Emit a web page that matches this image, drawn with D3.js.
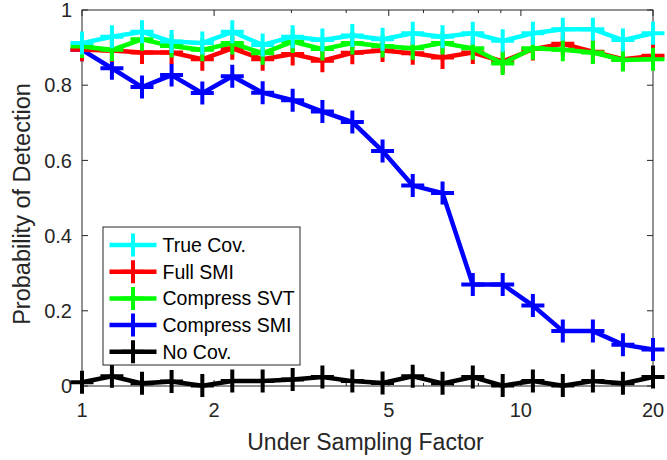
<!DOCTYPE html>
<html>
<head>
<meta charset="utf-8">
<script src="https://cdn.jsdelivr.net/npm/d3@7"></script>
<style>
  html, body { margin: 0; padding: 0; background: #fff; }
  svg { display: block; font-family: "Liberation Sans", Arial, Helvetica, sans-serif; }
</style>
</head>
<body>
<svg id="chart" width="667" height="460"></svg>
<script>
// Under-sampling factors (log-spaced from 1 to 20)
const factors = [1, 1.17, 1.37, 1.60, 1.88, 2.20, 2.58, 3.02, 3.53, 4.13,
                 4.84, 5.67, 6.63, 7.77, 9.09, 10.65, 12.46, 14.59, 17.08, 20];

// Probability of detection for each method
const trueCov     = [0.912, 0.929, 0.942, 0.916, 0.912, 0.942, 0.907, 0.929, 0.920, 0.932,
                     0.922, 0.938, 0.929, 0.938, 0.918, 0.938, 0.949, 0.949, 0.920, 0.938];
const fullSMI     = [0.894, 0.892, 0.887, 0.887, 0.869, 0.898, 0.869, 0.883, 0.865, 0.886,
                     0.892, 0.885, 0.874, 0.887, 0.863, 0.896, 0.910, 0.889, 0.869, 0.878];
const compressSVT = [0.903, 0.894, 0.922, 0.904, 0.894, 0.912, 0.885, 0.916, 0.896, 0.912,
                     0.904, 0.898, 0.912, 0.898, 0.858, 0.898, 0.894, 0.887, 0.867, 0.869];
const compressSMI = [0.894, 0.845, 0.795, 0.827, 0.779, 0.824, 0.780, 0.760, 0.730, 0.702,
                     0.625, 0.533, 0.513, 0.270, 0.270, 0.214, 0.146, 0.146, 0.110, 0.097];
const noCov       = [0.010, 0.026, 0.007, 0.012, 0.001, 0.013, 0.013, 0.017, 0.024, 0.013,
                     0.008, 0.026, 0.007, 0.024, 0.001, 0.013, 0.001, 0.013, 0.007, 0.024];

const seriesNames  = ["True Cov.", "Full SMI", "Compress SVT", "Compress SMI", "No Cov."];
const seriesValues = [trueCov, fullSMI, compressSVT, compressSMI, noCov];
const seriesColors = ["#00ffff", "#ff0000", "#00ff00", "#0000ff", "#000000"];

const xMajorTicks = [1, 2, 5, 10, 20];
const xMinorTicks = [3, 4, 6, 7, 8, 9];
const yTicks = [0, 0.2, 0.4, 0.6, 0.8, 1];

const axisColor = "#262626";
const margin = { left: 82, right: 14, top: 10, bottom: 74 };
const W = 667, H = 460;

const svg = d3.select("#chart");
const x = d3.scaleLog().domain([1, 20]).range([margin.left, W - margin.right]);
const y = d3.scaleLinear().domain([0, 1]).range([H - margin.bottom, margin.top]);

const x0 = x.range()[0], x1 = x.range()[1];
const y0 = y.range()[0], y1 = y.range()[1];

// Axes box
const gAxes = svg.append("g");
gAxes.append("rect")
  .attr("x", x0).attr("y", y1).attr("width", x1 - x0).attr("height", y0 - y1)
  .attr("fill", "none").attr("stroke", axisColor).attr("stroke-width", 1);

// Inward ticks on all four sides
const ticksG = gAxes.append("g").attr("stroke", axisColor).attr("stroke-width", 1);
xMajorTicks.concat(xMinorTicks).forEach(t => {
  const len = xMajorTicks.includes(t) ? 6 : 3;
  const px = x(t);
  ticksG.append("line").attr("x1", px).attr("x2", px).attr("y1", y0).attr("y2", y0 - len);
  ticksG.append("line").attr("x1", px).attr("x2", px).attr("y1", y1).attr("y2", y1 + len);
});
yTicks.forEach(t => {
  const py = y(t);
  ticksG.append("line").attr("x1", x0).attr("x2", x0 + 6).attr("y1", py).attr("y2", py);
  ticksG.append("line").attr("x1", x1).attr("x2", x1 - 6).attr("y1", py).attr("y2", py);
});

// Tick labels
gAxes.selectAll("text.xt").data(xMajorTicks).join("text")
  .attr("class", "xt")
  .attr("x", d => x(d)).attr("y", y0 + 31)
  .attr("text-anchor", "middle").attr("font-size", 20).attr("fill", axisColor)
  .text(d => d);
gAxes.selectAll("text.yt").data(yTicks).join("text")
  .attr("class", "yt")
  .attr("x", x0 - 10).attr("y", d => y(d)).attr("dy", "0.36em")
  .attr("text-anchor", "end").attr("font-size", 20).attr("fill", axisColor)
  .text(d => d3.format("~g")(d));

// Axis titles
svg.append("text")
  .attr("x", (x0 + x1) / 2 - 2).attr("y", 450)
  .attr("text-anchor", "middle").attr("font-size", 23).attr("fill", axisColor)
  .text("Under Sampling Factor");
svg.append("text")
  .attr("transform", `translate(29.5, ${(y0 + y1) / 2 + 6}) rotate(-90)`)
  .attr("text-anchor", "middle").attr("font-size", 23.5).attr("fill", axisColor)
  .text("Probability of Detection");

// Series lines with '+' markers (drawn back to front so True Cov. sits on top)
const line = d3.line().x((d, i) => x(factors[i])).y(d => y(d));
const plusPath = (cx, cy, r) => `M${cx - r},${cy}H${cx + r}M${cx},${cy - r}V${cy + r}`;
const markerR = 11.5;

const order = [4, 3, 1, 2, 0];
order.forEach(k => {
  const g = svg.append("g");
  g.append("path")
    .datum(seriesValues[k])
    .attr("d", line)
    .attr("fill", "none").attr("stroke", seriesColors[k])
    .attr("stroke-width", 4.5).attr("stroke-linejoin", "miter");
  g.selectAll("path.m").data(seriesValues[k]).join("path")
    .attr("class", "m")
    .attr("d", (d, i) => plusPath(x(factors[i]), y(d), markerR))
    .attr("stroke", seriesColors[k]).attr("stroke-width", 4).attr("fill", "none");
});

// Legend
const legend = { x: 103, y: 227, w: 197, h: 138, rowY0: 245, rowStep: 26.7 };
const lg = svg.append("g");
lg.append("rect")
  .attr("x", legend.x).attr("y", legend.y).attr("width", legend.w).attr("height", legend.h)
  .attr("fill", "#fff").attr("stroke", axisColor).attr("stroke-width", 1);
seriesNames.forEach((name, k) => {
  const ry = legend.rowY0 + k * legend.rowStep;
  lg.append("line")
    .attr("x1", 109.5).attr("x2", 156.5).attr("y1", ry).attr("y2", ry)
    .attr("stroke", seriesColors[k]).attr("stroke-width", 4.5);
  lg.append("path")
    .attr("d", plusPath(133, ry, markerR))
    .attr("stroke", seriesColors[k]).attr("stroke-width", 4).attr("fill", "none");
  lg.append("text")
    .attr("x", 162.5).attr("y", ry).attr("dy", "0.36em")
    .attr("font-size", 19.5).attr("fill", "#000")
    .text(name);
});
</script>
</body>
</html>
